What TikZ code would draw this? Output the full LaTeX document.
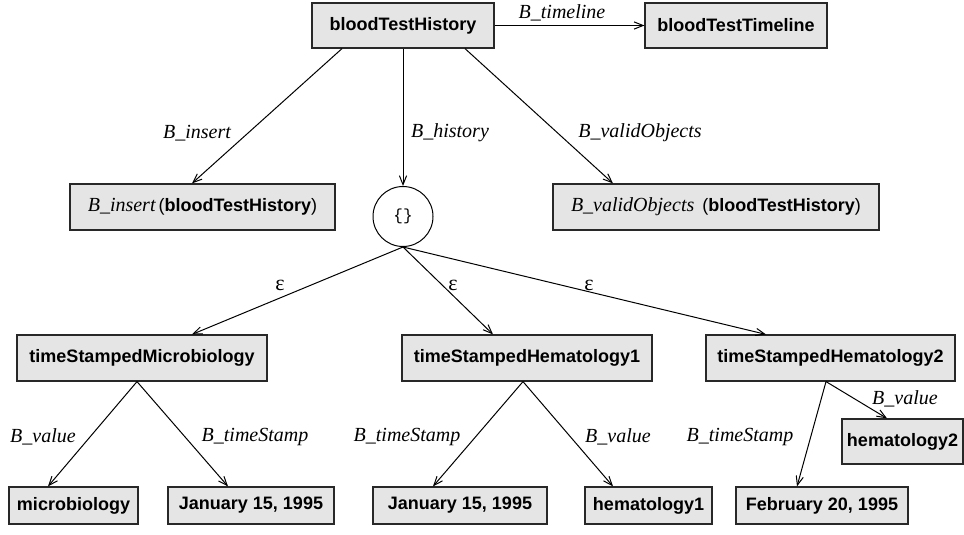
\documentclass[tikz,border=0pt]{standalone}
\usepackage{fontspec}
\setmainfont{Liberation Serif}
\setsansfont{Liberation Sans}
\setmonofont{Liberation Mono}
\usetikzlibrary{arrows.meta,calc}

\begin{document}
\begin{tikzpicture}[x=0.5pt,y=-0.5pt,
  box/.style={draw=boxline, fill=boxgray, line width=0.6pt, inner sep=0pt,
    font=\fontsize{9}{11}\selectfont\sffamily\bfseries},
  setnode/.style={draw, circle, line width=0.5pt, inner sep=0pt, minimum size=30pt,
    font=\fontsize{8}{10}\selectfont\ttfamily},
  lbl/.style={inner sep=0pt, font=\fontsize{10}{12}\selectfont\rmfamily\itshape},
  eps/.style={inner sep=0pt, font=\fontsize{11}{13}\selectfont\rmfamily},
  link/.style={line width=0.5pt, -{Straight Barb[length=4.5pt,width=3.6pt]}}]

\definecolor{boxgray}{RGB}{229,229,229}
\definecolor{boxline}{RGB}{40,40,40}
\def\fn{\fontsize{10}{12}\selectfont\rmfamily\mdseries\itshape}

\useasboundingbox (0,0) rectangle (964,535);

% top row
\node[box, minimum width=91pt, minimum height=22.5pt] (hist) at (403,25.5) {bloodTestHistory};
\node[box, minimum width=91pt, minimum height=22.5pt] (timeline) at (736,25.5) {bloodTestTimeline};

% second row
\node[box, minimum width=132.5pt, minimum height=23pt] (ins) at (202.5,207)
  {{\fn B\_insert}\,{\mdseries(}bloodTestHistory{\mdseries)}};
\node[setnode] (set) at (403,216.5) {\{\}};
\node[box, minimum width=163pt, minimum height=23pt] (valid) at (716,207)
  {{\fn B\_validObjects}\;\,{\mdseries(}bloodTestHistory{\mdseries)}};

% third row
\node[box, minimum width=125pt, minimum height=23pt] (micro) at (142,358) {timeStampedMicrobiology};
\node[box, minimum width=125pt, minimum height=23pt] (hem1) at (527,358) {timeStampedHematology1};
\node[box, minimum width=124.5pt, minimum height=23pt] (hem2) at (830.5,358) {timeStampedHematology2};

% leaves
\node[box, minimum width=64.5pt, minimum height=18.5pt] (mval) at (73.5,505.5) {microbiology};
\node[box, minimum width=83pt, minimum height=18.5pt] (mts) at (251,505.5) {January 15, 1995};
\node[box, minimum width=87pt, minimum height=18.5pt] (hts) at (460,505.5) {January 15, 1995};
\node[box, minimum width=63.5pt, minimum height=18.5pt] (hval) at (648.5,505.5) {hematology1};
\node[box, minimum width=86pt, minimum height=18.5pt] (fts) at (822,505.5) {February 20, 1995};
\node[box, minimum width=60.5pt, minimum height=22.5pt] (fval) at (902.5,441.5) {hematology2};

% arrows
\draw[link] (hist.east) -- (timeline.west);
\draw[link] ($(hist.south)+(-61,0)$) -- ($(ins.north)+(-10.5,0)$);
\draw[link] (hist.south) -- (set.north);
\draw[link] ($(hist.south)+(62,0)$) -- ($(valid.north)+(-103,0)$);

\draw[link] (set.south) -- ($(micro.north)+(50,0)$);
\draw[link] (set.south) -- ($(hem1.north)+(-34,0)$);
\draw[link] (set.south) -- ($(hem2.north)+(-64.5,0)$);

\draw[link] ($(micro.south)+(-5,0)$) -- ($(mval.north)+(-25.5,0)$);
\draw[link] ($(micro.south)+(-5,0)$) -- ($(mts.north)+(-23,0)$);
\draw[link] ($(hem1.south)+(-4,0)$) -- ($(hts.north)+(-27,0)$);
\draw[link] ($(hem1.south)+(-4,0)$) -- ($(hval.north)+(-35.5,0)$);
\draw[link] ($(hem2.south)+(-4.5,0)$) -- ($(fts.north)+(-25,0)$);
\draw[link] ($(hem2.south)+(-4.5,0)$) -- ($(fval.north)+(-15.5,0)$);

% labels
\node[lbl] (l-timeline) at (562,13) {B\_timeline};
\node[lbl] (l-insert) at (197,133) {B\_insert};
\node[lbl] (l-history) at (450,133) {B\_history};
\node[lbl] (l-valid) at (640,133) {B\_validObjects};

\node[eps] (e-micro) at (280,285) {ε};
\node[eps] (e-hem1) at (453,285) {ε};
\node[eps] (e-hem2) at (589,285) {ε};

\node[lbl] (l-mval) at (43,437) {B\_value};
\node[lbl] (l-mts) at (255,437) {B\_timeStamp};
\node[lbl] (l-hts) at (407,437) {B\_timeStamp};
\node[lbl] (l-hval) at (618,437) {B\_value};
\node[lbl] (l-fval) at (905,399) {B\_value};
\node[lbl] (l-fts) at (740,437) {B\_timeStamp};

\end{tikzpicture}
\end{document}
